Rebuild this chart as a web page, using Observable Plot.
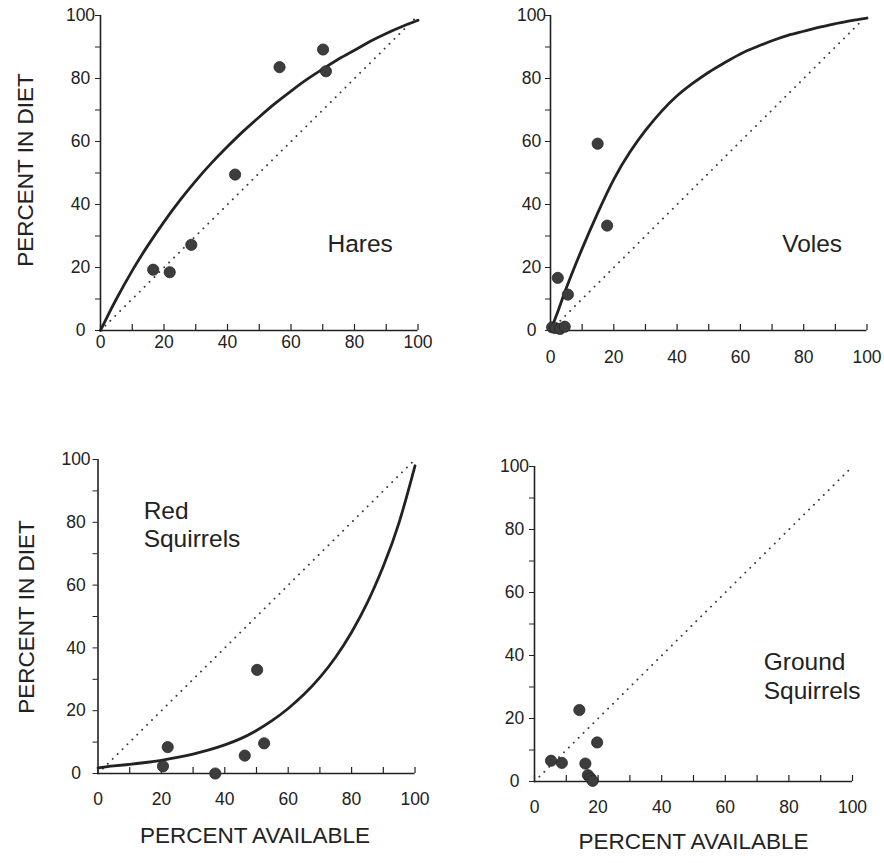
<!DOCTYPE html>
<html>
<head>
<meta charset="utf-8">
<script src="https://cdn.jsdelivr.net/npm/d3@7"></script>
<script src="https://cdn.jsdelivr.net/npm/@observablehq/plot@0.6"></script>
<style>
  body { margin: 0; background: #ffffff; }
  #chart { position: relative; width: 884px; height: 863px; font-family: "Liberation Sans", Arial, sans-serif; }
  .ytitle { position: absolute; transform: translate(-50%, -50%) rotate(-90deg); white-space: nowrap;
            font-size: 22.5px; color: #222; line-height: 1; }
</style>
</head>
<body>
<div id="chart"></div>
<script>
// ---------- data ----------
const majorTicks = [0, 20, 40, 60, 80, 100];
const minorTicks = [0, 10, 20, 30, 40, 50, 60, 70, 80, 90, 100];
const diagX = [0, 100];
const diagY = [0, 100];

const curveX = [0, 2.5, 5, 10, 15, 20, 25, 30, 35, 40, 45, 50, 55, 60, 65, 70, 75, 80, 85, 90, 95, 100];

const haresAvail = [16.6, 21.8, 28.6, 42.4, 56.4, 70.1, 71.0];
const haresDiet  = [19.3, 18.5, 27.2, 49.5, 83.6, 89.2, 82.3];
const haresCurve = [0, 5.1, 10, 19, 27.1, 34.5, 41.3, 47.5, 53.2, 58.4, 63.3, 67.8, 72.1, 76, 79.7, 83, 86.2, 89, 91.8, 94.3, 96.5, 98.5];

const volesAvail = [2.3, 5.5, 14.9, 17.9, 0.5, 1.5, 3.0, 4.5];
const volesDiet  = [16.7, 11.4, 59.3, 33.3, 1.0, 0.8, 0.5, 1.2];
const volesCurve = [0, 6.5, 13.5, 26, 37.5, 48, 56.5, 63.5, 69.5, 74.5, 78.5, 82, 85, 87.8, 90, 92, 93.7, 95, 96.3, 97.4, 98.4, 99.2];

const redAvail = [20.5, 22.0, 37.0, 46.3, 50.2, 52.4];
const redDiet  = [2.3, 8.4, 0, 5.7, 33.0, 9.6];
const redCurve = [1.8, 2.1, 2.4, 2.9, 3.5, 4.2, 5.1, 6.2, 7.5, 9.1, 11.1, 13.7, 16.9, 20.7, 25.2, 30.6, 37.1, 45, 54.5, 66, 80, 98];

const groundAvail = [5.2, 8.6, 14.1, 16.0, 16.8, 17.6, 18.3, 19.7];
const groundDiet  = [6.6, 5.9, 22.7, 5.7, 2.0, 1.1, 0.2, 12.4];

const yTitle = "PERCENT IN DIET";
const xTitle = "PERCENT AVAILABLE";

// ---------- drawing ----------
const ink = "#222222";
const chart = document.getElementById("chart");

function panel(cfg) {
  const {avail, diet, curve, name, nameX, nameY, left, top, width, height,
         ml, mr, mt, mb, xPad, yPad, xTitleDy, xTitleDx} = cfg;
  const pts = avail.map((x, i) => ({x, y: diet[i]}));
  const diag = diagX.map((x, i) => ({x, y: diagY[i]}));
  const frameH = height - mt - mb;
  const marks = [
    Plot.line(diag, {x: "x", y: "y", stroke: "#3a3a3a", strokeWidth: 1.9, strokeDasharray: "0.1,6.8", strokeLinecap: "round"}),
    Plot.ruleX([0], {stroke: ink, strokeWidth: 1.6}),
    Plot.ruleY([0], {stroke: ink, strokeWidth: 1.6}),
    Plot.tickX(minorTicks, {x: d => d, stroke: ink, strokeWidth: 1.2, insetTop: frameH - 6}),
    Plot.axisY({ticks: minorTicks, tickSize: 5, tickFormat: () => "", stroke: ink, label: null}),
    Plot.axisY({ticks: majorTicks, tickSize: 0, tickPadding: yPad, textAnchor: "middle", fontSize: 17.5, fill: ink, label: null}),
    Plot.axisX({ticks: majorTicks, tickSize: 0, tickPadding: xPad, fontSize: 17.5, fill: ink, label: null})
  ];
  if (curve) {
    const cp = curveX.map((x, i) => ({x, y: curve[i]}));
    marks.push(Plot.line(cp, {x: "x", y: "y", curve: "natural", stroke: ink, strokeWidth: 2.8}));
  }
  marks.push(Plot.dot(pts, {x: "x", y: "y", r: 5.6, fill: "#3d3d3d", stroke: "#262626", strokeWidth: 0.8}));
  marks.push(Plot.text([{x: nameX, y: nameY}], {x: "x", y: "y", text: () => name, textAnchor: "start", lineAnchor: "bottom", lineHeight: 1.16, fontSize: 24.5, fill: ink}));
  if (xTitleDy != null) {
    marks.push(Plot.text([xTitle], {frameAnchor: "bottom", dy: xTitleDy, dx: xTitleDx, fontSize: 22.5, fill: ink}));
  }
  const svg = Plot.plot({
    width, height,
    marginLeft: ml, marginRight: mr, marginTop: mt, marginBottom: mb,
    x: {domain: [0, 100], label: null},
    y: {domain: [0, 100], label: null},
    style: {fontFamily: "'Liberation Sans', Arial, sans-serif", fontSize: "17px", color: ink, background: "transparent", overflow: "visible"},
    marks
  });
  svg.style.position = "absolute";
  svg.style.left = left + "px";
  svg.style.top = top + "px";
  chart.appendChild(svg);
}

function yTitleAt(cx, cy) {
  const d = document.createElement("div");
  d.className = "ytitle";
  d.textContent = yTitle;
  d.style.left = cx + "px";
  d.style.top = cy + "px";
  chart.appendChild(d);
}

panel({avail: haresAvail, diet: haresDiet, curve: haresCurve, name: "Hares", nameX: 71.5, nameY: 24.9,
  left: 0, top: 0, width: 440, height: 370, ml: 100, mr: 22.5, mt: 15, mb: 40, xPad: 5, yPad: 20});
panel({avail: volesAvail, diet: volesDiet, curve: volesCurve, name: "Voles", nameX: 73.2, nameY: 24.9,
  left: 490, top: 0, width: 394, height: 380, ml: 60, mr: 17.5, mt: 15, mb: 50, xPad: 20, yPad: 19});
panel({avail: redAvail, diet: redDiet, curve: redCurve, name: "Red\nSquirrels", nameX: 14.4, nameY: 72,
  left: 0, top: 440, width: 440, height: 423, ml: 97.5, mr: 25.5, mt: 19, mb: 90, xPad: 19, yPad: 22,
  xTitleDy: 69, xTitleDx: -1.5});
panel({avail: groundAvail, diet: groundDiet, curve: null, name: "Ground\nSquirrels", nameX: 72.1, nameY: 26.3,
  left: 474, top: 445, width: 410, height: 418, ml: 60, mr: 32, mt: 21, mb: 82, xPad: 19, yPad: 20,
  xTitleDy: 67.7, xTitleDx: 0});

yTitleAt(26, 170);
yTitleAt(27, 617);
</script>
</body>
</html>
